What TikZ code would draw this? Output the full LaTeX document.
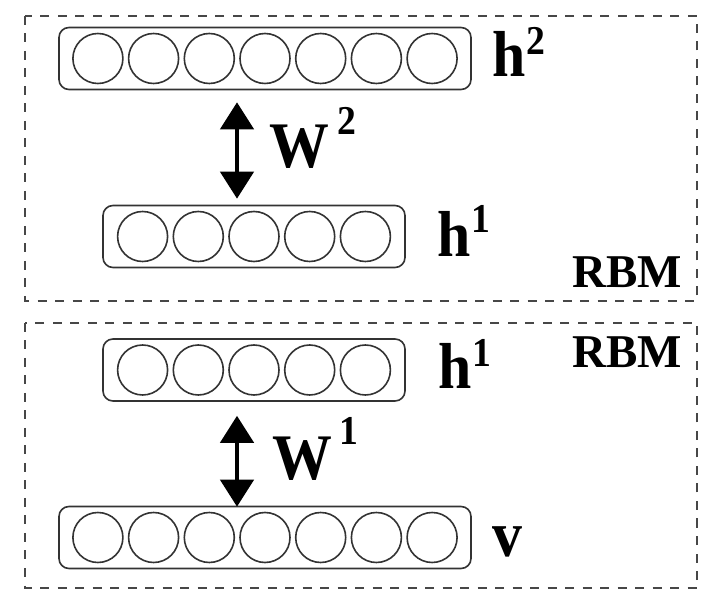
\documentclass[tikz,border=0pt]{standalone}
\usepackage{fontspec}
\setmainfont{Liberation Serif}
\newfontfamily\lblfont[FakeStretch=0.92]{Liberation Serif}
\usetikzlibrary{calc, arrows.meta}
\tikzset{
  >={Triangle[length=27pt, width=33pt]},
  layer/.style={draw=black!80, line width=1.6pt, rounded corners=10pt,
    minimum height=62pt, inner sep=0pt},
  unit/.style={circle, draw=black!80, line width=1.6pt, minimum size=50pt, inner sep=0pt},
  rbmbox/.style={draw=black!72, line width=2pt, dash pattern=on 9pt off 8.5pt},
  weights/.style={<->, line width=4.5pt},
  lbl/.style={anchor=base west, inner sep=0pt, font=\lblfont\fontsize{65}{65}\selectfont\bfseries},
  rbm/.style={anchor=base west, inner sep=0pt, font=\fontsize{47}{47}\selectfont\bfseries}
}
% superscript: kern, raise, digit
\newcommand{\supr}[3]{\kern#1\raisebox{#2}{\fontsize{41}{41}\selectfont #3}}

\begin{document}
\begin{tikzpicture}[x=1pt, y=-1pt]
\useasboundingbox (0,0) rectangle (702,593);

% two stacked RBMs
\draw[rbmbox] (25,16) rectangle (697,301);
\draw[rbmbox] (25,323) rectangle (697,588);

% layers of units
\foreach \n/\x/\y/\k/\w in {h2/265/58.5/7/412, h1a/254/236.5/5/302,
                            h1b/254/370/5/302, v/265/537.5/7/412} {
  \node[layer, minimum width=\w] (\n) at (\x,\y) {};
  \foreach \i in {1,...,\k}
    \node[unit] (\n-\i) at ($(\n)+({(\i-(\k+1)/2)*55.7},0)$) {};
}

% weights
\draw[weights, shorten <=12pt, shorten >=6pt]
  ([xshift=-28pt]h2.south) -- ([xshift=-17pt]h1a.north);
\draw[weights, shorten <=14pt, shorten >=-1pt]
  ([xshift=-17pt]h1b.south) -- ([xshift=-28pt]v.north);

% labels
\node[lbl] (lh2) at (492,77) {h\supr{1.5pt}{22pt}{2}};
\node[lbl] (lw2) at (269,168) {W\supr{8pt}{33pt}{2}};
\node[lbl] (lh1a) at (437,257) {h\supr{1.5pt}{24pt}{1}};
\node[rbm] (rbma) at (572,288) {RBM};

\node[rbm] (rbmb) at (572,368) {RBM};
\node[lbl] (lh1b) at (438,389) {h\supr{1.5pt}{22pt}{1}};
\node[lbl] (lw1) at (272,480) {W\supr{7.5pt}{35pt}{1}};
\node[lbl] (lv) at (492,557) {v};
\end{tikzpicture}
\end{document}
